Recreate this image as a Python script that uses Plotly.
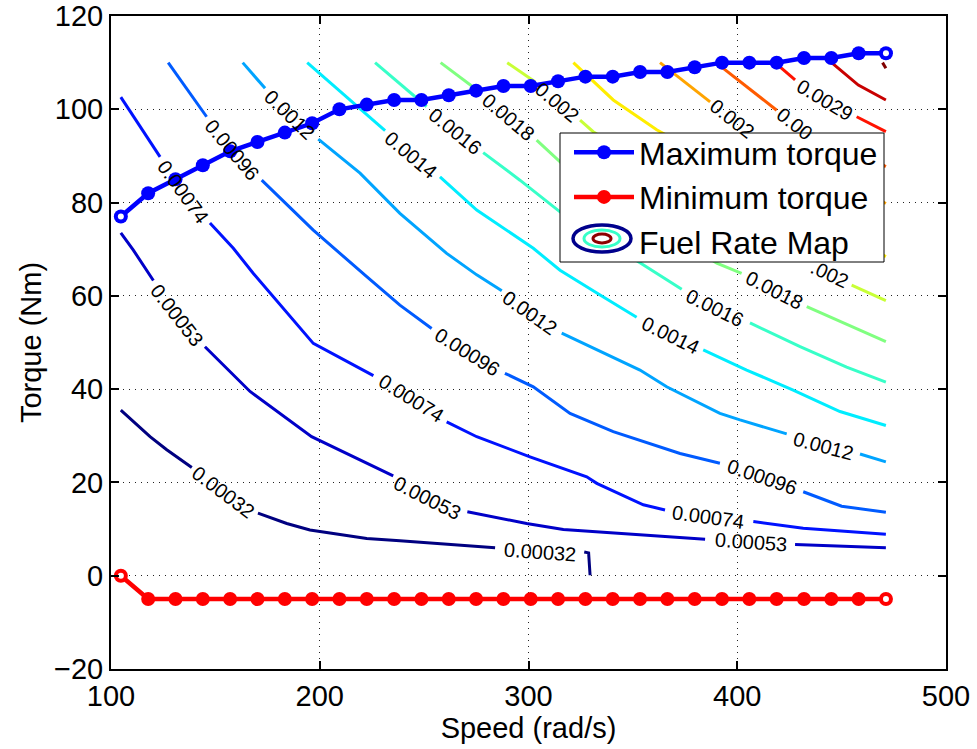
import plotly.graph_objects as go

# ---------------- data ----------------
speed = [104.72, 117.81, 130.90, 143.99, 157.08, 170.17, 183.26, 196.35, 209.44,
         222.53, 235.62, 248.71, 261.80, 274.89, 287.98, 301.07, 314.16, 327.25,
         340.34, 353.43, 366.52, 379.61, 392.70, 405.79, 418.88, 431.97, 445.06,
         458.15, 471.24]
max_torque = [77, 82, 85, 88, 91, 93, 95, 97, 100, 101, 102, 102, 103, 104, 105,
              105, 106, 107, 107, 108, 108, 109, 110, 110, 110, 111, 111, 112, 112]
min_torque = [0, -5, -5, -5, -5, -5, -5, -5, -5, -5, -5, -5, -5, -5, -5,
              -5, -5, -5, -5, -5, -5, -5, -5, -5, -5, -5, -5, -5, -5]

levels = [0.00032, 0.00053, 0.00074, 0.00096, 0.0012, 0.0014, 0.0016, 0.0018,
          0.0020, 0.0022, 0.0025, 0.0027, 0.0029, 0.0031, 0.0033]

# contour polylines (speed, torque); None = label gap
c00032_s = [104.7, 118.7, 126.7, 138.7, None, 170.4, 184.2, 195.3, 222.5, 238.4, 260.8, 284.0, None, 326.7, 328.8, 329.5]
c00032_t = [35.5, 29.8, 27.0, 23.2, None, 13.4, 11.2, 9.8, 8.0, 7.5, 6.7, 6.0, None, 5.1, 4.9, 0.1]
c00053_s = [104.7, 110.7, 120.3, None, 145.0, 166.6, 196.1, 235.2, None, 270.7, 299.1, 316.7, 372.6, 384.6, None, 427.7, 471.2]
c00053_t = [73.5, 69.8, 63.3, None, 49.1, 39.5, 29.8, 21.4, None, 13.7, 11.2, 9.9, 8.2, 7.8, None, 6.7, 6.0]
c00074_s = [104.7, 123.5, None, 147.4, 158.6, 168.2, 196.9, 225.7, None, 260.8, 275.2, 300.7, 327.9, 332.7, 355.0, 365.4, None, 407.7, 431.6, 471.2]
c00074_t = [102.6, 89.8, None, 75.6, 70.2, 64.8, 49.8, 42.9, None, 33.0, 29.8, 25.5, 21.2, 19.8, 15.2, 14.1, None, 11.6, 10.2, 8.9]
c00096_s = [127.4, 145.8, None, 172.2, 196.9, 222.5, 238.4, 253.6, None, 288.7, 302.3, 319.9, 340.6, 372.6, 391.7, None, 431.6, 450.0, 471.2]
c00096_t = [110.0, 98.4, None, 84.8, 74.1, 64.1, 58.0, 53.0, None, 43.4, 40.5, 34.8, 30.9, 26.2, 24.1, None, 18.0, 14.9, 13.6]
c0012_s = [163.1, 173.8, None, 199.3, 219.3, 238.4, 248.0, 260.8, 275.2, 287.2, None, 315.9, 327.9, 353.4, 366.2, 382.2, 391.7, 401.3, 423.7, None, 458.8, 471.2]
c0012_t = [110.0, 104.5, None, 93.6, 86.3, 77.7, 74.1, 69.1, 64.5, 61.1, None, 52.0, 49.5, 44.1, 40.5, 37.0, 34.8, 33.4, 30.4, None, 26.1, 24.4]
c0014_s = [194.0, 231.3, None, 257.6, 275.2, 302.3, 315.1, 334.3, 351.8, None, 383.7, 404.5, 426.8, 449.2, 471.2]
c0014_t = [110.0, 95.4, None, 85.5, 78.4, 70.2, 65.5, 60.2, 55.4, None, 48.4, 44.1, 39.8, 35.2, 32.2]
c0016_s = [226.5, 251.2, None, 278.3, 295.9, 315.1, 353.4, 373.4, None, 406.1, 430.1, 452.4, 471.2]
c0016_t = [110.0, 100.6, None, 90.7, 84.8, 78.0, 67.0, 61.4, None, 54.2, 49.1, 44.7, 41.5]
c0018_s = [257.9, 277.6, None, 303.9, 315.9, 390.2, 402.1, None, 433.3, 449.2, 471.2]
c0018_t = [110.0, 103.4, None, 93.4, 88.4, 67.0, 64.8, None, 57.7, 54.5, 50.2]
c0020_s = [289.8, 303.1, None, 324.7, 331.0, 420.5, None, 454.8, 471.2]
c0020_t = [110.0, 105.9, None, 97.7, 95.2, 70.2, None, 62.3, 59.0]
c0022_s = [321.5, 340.6, 361.4, 471.2]
c0022_t = [110.0, 102.0, 95.6, 68.4]
c0025_s = [363.0, 387.0, None, 410.9, 471.2]
c0025_t = [110.0, 101.6, None, 94.5, 79.8]
c0027_s = [389.8, 418.9, None, 443.0, 471.2]
c0027_t = [110.0, 99.8, None, 94.5, 87.7]
c0029_s = [418.1, 427.7, None, 457.2, 471.2]
c0029_t = [110.0, 106.3, None, 98.4, 95.2]
c0031_s = [445.2, 458.0, 471.2]
c0031_t = [110.0, 105.2, 102.0]
c0033_s = [469.6, 471.2]
c0033_t = [110.0, 108.8]

contours = [(c00032_s, c00032_t), (c00053_s, c00053_t), (c00074_s, c00074_t),
            (c00096_s, c00096_t), (c0012_s, c0012_t), (c0014_s, c0014_t),
            (c0016_s, c0016_t), (c0018_s, c0018_t), (c0020_s, c0020_t),
            (c0022_s, c0022_t), (c0025_s, c0025_t), (c0027_s, c0027_t),
            (c0029_s, c0029_t), (c0031_s, c0031_t), (c0033_s, c0033_t)]

# contour labels: text (as visible; some are partly hidden by the legend),
# speed, torque, angle (deg, clockwise)
label_text = ["0.00032", "0.00032", "0.00053", "0.00053", "0.00053",
              "0.00074", "0.00074", "0.00074", "0.00096", "0.00096", "0.00096",
              "0.0012", "0.0012", "0.0012", "0.0014", "0.0014", "0.0016", "0.0016",
              "0.0018", "0.0018", "0.002", ".002", "0.002", "0.00", "0.0029"]
label_speed = [153.7, 305.5, 131.5, 251.5, 406.4, 134.6, 243.6, 386.1, 158.1, 270.7, 412.0,
               185.7, 300.7, 441.2, 243.6, 367.8, 264.8, 389.3, 290.3, 417.7, 313.5, 444.2,
               397.7, 427.6, 442.0]
label_torque = [17.9, 5.1, 55.9, 16.6, 7.3, 82.3, 38.0, 12.6, 91.3, 47.9, 21.2,
                98.8, 56.3, 27.9, 90.1, 51.6, 95.4, 57.3, 98.4, 61.3, 101.5, 64.6,
                97.9, 96.8, 101.9]
label_angle = [37, 4, 52, 27, 4, 54, 32, 8, 50, 32, 19, 44, 35, 15, 40, 26, 39, 26,
               40, 27, 40, 25, 38, 38, 31]


def jet(t):
    def c(v):
        return max(0.0, min(1.0, v))
    r = c(1.5 - abs(4 * t - 3))
    g = c(1.5 - abs(4 * t - 2))
    b = c(1.5 - abs(4 * t - 1))
    return "rgb(%d,%d,%d)" % (round(r * 255), round(g * 255), round(b * 255))


# figure geometry (page body margin is removed, so figure pixels = screen pixels)
W, H = 977, 749
ML, MR, MT, MB = 111, 31, 16, 80
PW, PH = W - ML - MR, H - MT - MB


def pxx(p):  # screen pixel -> paper x
    return (p - ML) / PW


def pxy(p):  # screen pixel -> paper y
    return (H - MB - p) / PH


FONT = "Liberation Sans, Arial, Helvetica, sans-serif"
fig = go.Figure()

n = len(levels)
for i, (s, t) in enumerate(contours):
    fig.add_trace(go.Scatter(x=s, y=t, mode="lines", showlegend=False,
                             line=dict(color=jet(i / (n - 1)), width=3),
                             hoverinfo="skip", connectgaps=False))

fig.add_trace(go.Scatter(x=speed, y=max_torque, mode="lines+markers",
                         name="Maximum torque",
                         line=dict(color="#0000FF", width=4.5),
                         marker=dict(color="#0000FF", size=14)))
fig.add_trace(go.Scatter(x=speed, y=min_torque, mode="lines+markers",
                         name="Minimum torque",
                         line=dict(color="#FF0000", width=4.5),
                         marker=dict(color="#FF0000", size=14)))
# hollow centres on the end markers
fig.add_trace(go.Scatter(x=[speed[0], speed[-1], speed[0], speed[-1]],
                         y=[max_torque[0], max_torque[-1], min_torque[0], min_torque[-1]],
                         mode="markers", showlegend=False, hoverinfo="skip",
                         marker=dict(color="white", size=6)))
fig.add_trace(go.Scatter(x=[None], y=[None], mode="markers", name="Fuel Rate Map",
                         marker=dict(size=10, color="rgba(0,0,0,0)")))

for txt, xs, yt, ang in zip(label_text, label_speed, label_torque, label_angle):
    fig.add_annotation(x=xs, y=yt, text=txt, textangle=ang, showarrow=False,
                       xanchor="center", yanchor="middle",
                       font=dict(family=FONT, size=20, color="black"))

# legend frame (white box) and contour-style icon for "Fuel Rate Map"
fig.add_shape(type="rect", xref="paper", yref="paper", layer="above",
              x0=pxx(560), x1=pxx(884), y0=pxy(262), y1=pxy(133),
              fillcolor="white", line=dict(color="black", width=1))
icon = [(573, 631, 225, 252, "rgb(0,0,140)", 3.5),
        (584, 620, 230, 247, "rgb(55,255,200)", 3),
        (593, 611, 234, 243, "rgb(140,0,0)", 3)]
for x0, x1, y0, y1, col, lw in icon:
    fig.add_shape(type="circle", xref="paper", yref="paper", layer="above",
                  x0=pxx(x0), x1=pxx(x1), y0=pxy(y1), y1=pxy(y0),
                  fillcolor="white", line=dict(color=col, width=lw))

axis_common = dict(showline=True, linecolor="black", linewidth=2, mirror="ticks",
                   ticks="inside", ticklen=8, tickwidth=1.5, tickcolor="black",
                   showgrid=True, gridcolor="#222", griddash="1px,5px", gridwidth=1,
                   zeroline=False, automargin=False, ticklabeloverflow="allow",
                   tickfont=dict(family=FONT, size=29, color="black"))

fig.update_xaxes(range=[100, 500], dtick=100, tick0=100,
                 title=dict(text="Speed (rad/s)", font=dict(family=FONT, size=29, color="black"),
                            standoff=0),
                 **axis_common)
fig.update_yaxes(range=[-20, 120], dtick=20, tick0=0,
                 title=dict(text="Torque (Nm)", font=dict(family=FONT, size=29, color="black"),
                            standoff=4),
                 **axis_common)

fig.update_layout(width=W, height=H, margin=dict(l=ML, r=MR, t=MT, b=MB, autoexpand=False),
                  paper_bgcolor="white", plot_bgcolor="white",
                  font=dict(family=FONT, color="black"),
                  legend=dict(x=pxx(569), y=pxy(125), xanchor="left", yanchor="top",
                              bgcolor="rgba(0,0,0,0)", borderwidth=0,
                              font=dict(family=FONT, size=32, color="black"),
                              itemwidth=60, tracegroupgap=0))

fig.write_html("out.html", config={"displayModeBar": False},
               post_script="document.body.style.margin='0';")
